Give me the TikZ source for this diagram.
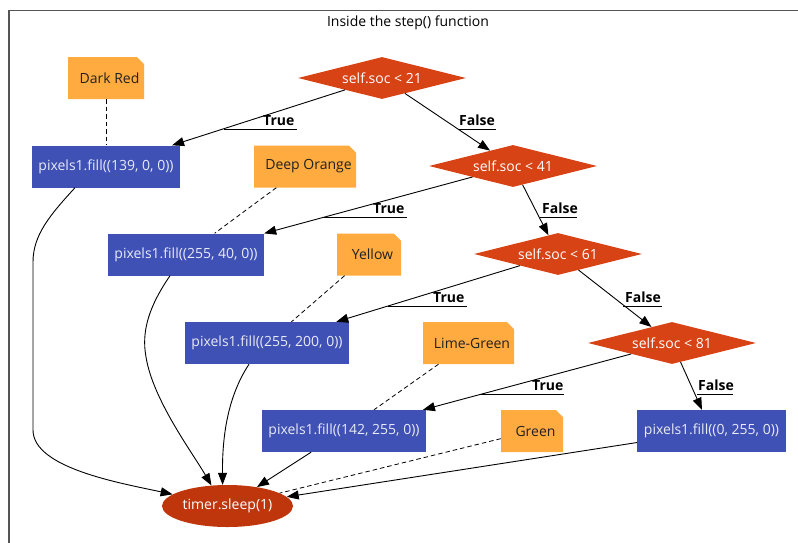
\documentclass[tikz,border=0pt]{standalone}
\usepackage{fontspec}
\setmainfont{Open Sans}
\usetikzlibrary{shapes.geometric,arrows.meta}

\definecolor{boxblue}{HTML}{3F51B5}
\definecolor{boxtext}{HTML}{E8EAF6}
\definecolor{noteorange}{HTML}{FFAB40}
\definecolor{notetext}{HTML}{212121}
\definecolor{decide}{HTML}{D84315}
\definecolor{sleepred}{HTML}{BF360C}
\definecolor{framegray}{HTML}{555555}

\begin{document}
\begin{tikzpicture}[
  x=1pt, y=-1pt,
  font=\fontsize{14}{16}\selectfont,
  stepbox/.style={rectangle, fill=boxblue, text=boxtext, inner sep=0pt, minimum height=42pt},
  decision/.style={diamond, fill=decide, text=white, inner sep=0pt, aspect=4,
                   minimum width=168pt, minimum height=42pt},
  finish/.style={ellipse, fill=sleepred, text=white, inner sep=0pt,
                 minimum width=131pt, minimum height=42pt},
  notebox/.style={rectangle, inner sep=0pt, minimum height=42pt, text=notetext,
    path picture={\fill[noteorange]
      (path picture bounding box.south west) -- (path picture bounding box.north west)
      -- ([xshift=-7pt]path picture bounding box.north east)
      -- ([yshift=-7pt]path picture bounding box.north east)
      -- (path picture bounding box.south east) -- cycle;}},
  flow/.style={draw=black, line width=0.9pt, -{Triangle[length=12pt,width=9pt]}},
  tie/.style={draw=black, line width=0.8pt, dash pattern=on 4.5pt off 3pt},
  lbl/.style={font=\bfseries\fontsize{14}{16}\selectfont, inner sep=0pt, anchor=base west},
  uline/.style={draw=black, line width=0.9pt}
]
\useasboundingbox (0,0) rectangle (798,542);

% outer cluster frame
\begin{scope}
  \clip (0,0) rectangle (798,542);
  \draw[framegray, line width=1.3pt] (9,10.7) rectangle (830,570);
\end{scope}
\node[anchor=base] (title) at (408,26.5) {Inside the step() function};

% decisions
\node[decision] (d21) at (382,78)  {self.soc < 21};
\node[decision] (d41) at (513,166) {self.soc < 41};
\node[decision] (d61) at (558,254) {self.soc < 61};
\node[decision] (d81) at (672,343) {self.soc < 81};

% fill actions
\node[stepbox, minimum width=148pt] (b139) at (106,166.5) {pixels1.fill((139, 0, 0))};
\node[stepbox, minimum width=156pt] (b40)  at (186,254.5) {pixels1.fill((255, 40, 0))};
\node[stepbox, minimum width=164pt] (b200) at (267,343)   {pixels1.fill((255, 200, 0))};
\node[stepbox, minimum width=164pt] (b142) at (344,431)   {pixels1.fill((142, 255, 0))};
\node[stepbox, minimum width=149pt] (b0)   at (711.5,431) {pixels1.fill((0, 255, 0))};

% colour notes
\node[notebox, minimum width=76pt]  (ndark)   at (106,78)    {\hspace*{7pt}Dark Red};
\node[notebox, minimum width=102pt] (ndeep)   at (305,166.5) {\hspace*{7pt}Deep Orange};
\node[notebox, minimum width=64pt]  (nyellow) at (369,254.5) {\hspace*{7pt}Yellow};
\node[notebox, minimum width=91pt]  (nlime)   at (468.5,343) {\hspace*{7pt}Lime-Green};
\node[notebox, minimum width=62pt]  (ngreen)  at (532,431)   {\hspace*{7pt}Green};

% end
\node[finish] (sleep) at (227.5,506) {timer.sleep(1)};

% decision edges
\draw[flow] (d21) -- (b139);
\draw[flow] (d21) -- (d41);
\draw[flow] (d41) -- (b40);
\draw[flow] (d41) -- (d61);
\draw[flow] (d61) -- (b200);
\draw[flow] (d61) -- (d81);
\draw[flow] (d81) -- (b142);
\draw[flow] (d81) -- (b0);

% edge labels with underline decoration
\node[lbl] (t1) at (263,125) {True};
\draw[uline] (224,129) -- (297,129);
\node[lbl] (f1) at (459,125) {False};
\draw[uline] (458,129) -- (496,129);
\node[lbl] (t2) at (373,213) {True};
\draw[uline] (324,217) -- (407,217);
\node[lbl] (f2) at (542,213) {False};
\draw[uline] (540,217) -- (577,217);
\node[lbl] (t3) at (433,302) {True};
\draw[uline] (388,306) -- (467,306);
\node[lbl] (f3) at (625,302) {False};
\draw[uline] (623,306) -- (662,306);
\node[lbl] (t4) at (532,390) {True};
\draw[uline] (481,394) -- (564,394);
\node[lbl] (f4) at (698,390) {False};
\draw[uline] (697,394) -- (733,394);

% note ties
\draw[tie] (ndark) -- (b139);
\draw[tie] (ndeep) -- (b40);
\draw[tie] (nyellow) -- (b200);
\draw[tie] (nlime) -- (b142);
\draw[tie] (ngreen) -- (sleep);

% actions into the sleep call
\draw[flow] ([xshift=-31pt]b139.south) .. controls (50,215) and (33,235) .. (33,262)
  -- (33,430) .. controls (33,468) and (120,483) .. (sleep.168);
\draw[flow] ([xshift=-16pt]b40.south) .. controls (150,305) and (141,330) .. (146,357)
  .. controls (153,400) and (192,452) .. (sleep.128);
\draw[flow] ([xshift=-18pt]b200.south) .. controls (232,390) and (222,425) .. (sleep.103);
\draw[flow] (b142) -- (sleep);
\draw[flow] (b0) -- (sleep);
\end{tikzpicture}
\end{document}
